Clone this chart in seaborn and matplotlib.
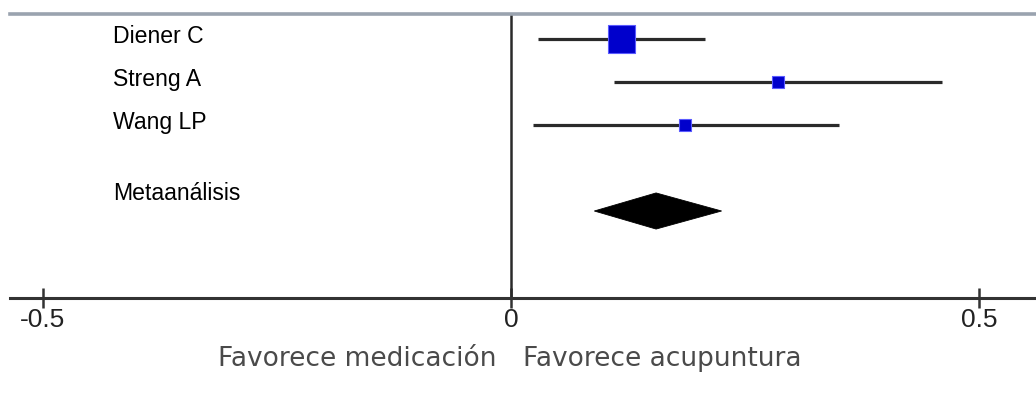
import numpy as np
import pandas as pd
import matplotlib
matplotlib.use("Agg")
import matplotlib.pyplot as plt
import seaborn as sns

# Study estimates (mean difference) with 95% confidence limits
studies = ["Diener C", "Streng A", "Wang LP"]
estimate = [0.118, 0.285, 0.186]
ci_low = [0.029, 0.110, 0.024]
ci_high = [0.207, 0.461, 0.350]

# Pooled result
pooled_label = "Metaanálisis"
pooled_est = 0.155
pooled_low = 0.089
pooled_high = 0.225

tick_values = [-0.5, 0, 0.5]
tick_labels = ["-0.5", "0", "0.5"]
side_left = "Favorece medicación"
side_right = "Favorece acupuntura"

# ---- styling ----
sns.set_style("white")
plt.rcParams["font.family"] = ["Liberation Sans", "DejaVu Sans"]

W, H, DPI = 1036, 396, 100
fig = plt.figure(figsize=(W / DPI, H / DPI), dpi=DPI)

ax_left_px, ax_top_px, ax_bottom_px = 10, 14, 298
ax = fig.add_axes([ax_left_px / W, (H - ax_bottom_px) / H,
                   1 - ax_left_px / W, (ax_bottom_px - ax_top_px) / H])

# x scale: -0.5 .. 0.5 spans 936 px, zero at 511 px
px_per_unit = 936.0
zero_px = 511.0
ax.set_xlim((ax_left_px - zero_px) / px_per_unit, (W - zero_px) / px_per_unit)

# y scale in row units (row 0 at 39 px, 43 px per row)
row0_px, row_px = 39.0, 43.0
ax.set_ylim((ax_bottom_px - row0_px) / row_px, (ax_top_px - row0_px) / row_px)

rows = np.arange(len(studies))
pooled_row = 4

df = pd.DataFrame({"study": studies, "est": estimate, "lo": ci_low,
                   "hi": ci_high, "row": rows})

line_col = "#2a2a2a"
ax.hlines(df["row"], df["lo"], df["hi"], color=line_col, lw=2.3, zorder=2)

square_sizes = {"Diener C": 380, "Streng A": 70, "Wang LP": 70}
sns.scatterplot(data=df, x="est", y="row", hue="study", size="study",
                sizes=square_sizes, marker="s",
                palette={s: "#0000cc" for s in studies},
                edgecolor="#5a5aff", linewidth=0.8, legend=False,
                ax=ax, zorder=3)

# pooled diamond
half_h = 0.42
ax.fill([pooled_low, pooled_est, pooled_high, pooled_est],
        [pooled_row, pooled_row - half_h, pooled_row, pooled_row + half_h],
        color="black", lw=0.6, zorder=3)

# line of no effect
ax.axvline(0, color=line_col, lw=1.8, zorder=1)

# row labels
label_x = (113 - zero_px) / px_per_unit
for r, name in zip(rows, studies):
    ax.text(label_x, r - 0.05, name, ha="left", va="center", fontsize=16.6,
            color="black")
ax.text(label_x, pooled_row - 0.40, pooled_label, ha="left", va="center",
        fontsize=16.6, color="black")

# axes frame
for side in ["left", "right"]:
    ax.spines[side].set_visible(False)
ax.spines["bottom"].set_color("#333333")
ax.spines["bottom"].set_linewidth(2.2)
ax.spines["top"].set_color("#9aa3af")
ax.spines["top"].set_linewidth(2.6)

ax.set_yticks([])
ax.set_xticks(tick_values)
ax.set_xticklabels(tick_labels, family=["Liberation Sans Narrow", "Liberation Sans"],
                   fontsize=19, color="#222222")
ax.tick_params(axis="x", direction="inout", length=14, width=1.8,
               color="#333333", pad=0, bottom=True)
ax.set_xlabel("")
ax.set_ylabel("")

# direction labels under the axis
lab_y = (359 - row0_px) / row_px
ax.text(-0.016, lab_y, side_left, ha="right", va="center", fontsize=19,
        color="#4a4a4a", family=["DejaVu Sans"], clip_on=False)
ax.text(0.0128, lab_y, side_right, ha="left", va="center", fontsize=19,
        color="#4a4a4a", family=["DejaVu Sans"], clip_on=False)

fig.savefig("out.png", dpi=DPI)
